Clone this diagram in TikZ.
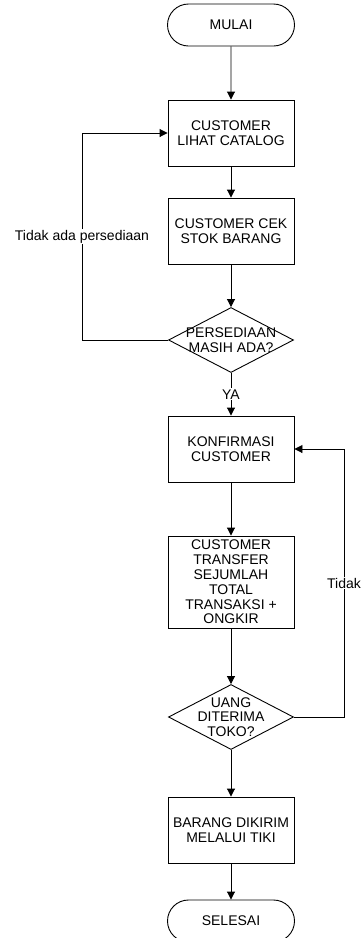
\documentclass[tikz,border=0pt]{standalone}
\usepackage{fontspec}
\setmainfont{Liberation Sans}
\usetikzlibrary{shapes.geometric,shapes.misc,arrows.meta}
\begin{document}
\begin{tikzpicture}[x=1pt,y=-1pt, line width=0.9pt,
 font=\fontsize{14}{14.8}\selectfont,
 term/.style={draw, rounded rectangle, minimum width=127pt, minimum height=42pt, inner sep=0pt},
 proc/.style={draw, rectangle, minimum width=126pt, minimum height=66pt, inner sep=0pt, align=center},
 dec/.style={draw, diamond, aspect=1.92, minimum width=125pt, minimum height=65pt, inner sep=0pt},
 dectext/.style={align=center, inner sep=0pt},
 lbl/.style={fill=white, inner sep=1pt},
 arr/.style={-{Triangle[length=8pt,width=8pt]}},
]
\useasboundingbox (0,0) rectangle (362,938);
\node[term] (mulai) at (231,25) {MULAI};
\node[proc] (b1) at (231,133) {CUSTOMER\\LIHAT CATALOG};
\node[proc] (b2) at (231,231) {CUSTOMER CEK\\STOK BARANG};
\node[dec] (d1) at (231,340) {};
\node[dectext] (t1) at (d1) {PERSEDIAAN\\MASIH ADA?};
\node[proc] (b3) at (231,449) {KONFIRMASI\\CUSTOMER};
\node[proc, minimum height=92pt] (b4) at (231,582) {CUSTOMER\\TRANSFER\\SEJUMLAH\\TOTAL\\TRANSAKSI +\\ONGKIR};
\node[dec] (d2) at (231,717) {};
\node[dectext] (t2) at (d2) {UANG\\DITERIMA\\TOKO?};
\node[proc] (b5) at (231,830) {BARANG DIKIRIM\\MELALUI TIKI};
\node[term] (selesai) at (231,921) {SELESAI};
\coordinate (lx) at (82,0);
\coordinate (rx) at (344,0);
\draw[arr] (mulai) -- (b1);
\draw[arr] (b1) -- (b2);
\draw[arr] (b2) -- (d1);
\draw[arr] (d1) -- node[lbl] {YA} (b3);
\draw[arr] (b3) -- (b4);
\draw[arr] (b4) -- (d2);
\draw[arr] (d2) -- (b5);
\draw[arr] (b5) -- (selesai);
\draw[arr] (d1.west) -- (d1.west -| lx) -- node[lbl] {Tidak ada persediaan} (b1.west -| lx) -- (b1.west);
\draw[arr] (d2.east) -- (d2.east -| rx) -- node[lbl] {Tidak} (b3.east -| rx) -- (b3.east);
\end{tikzpicture}
\end{document}
